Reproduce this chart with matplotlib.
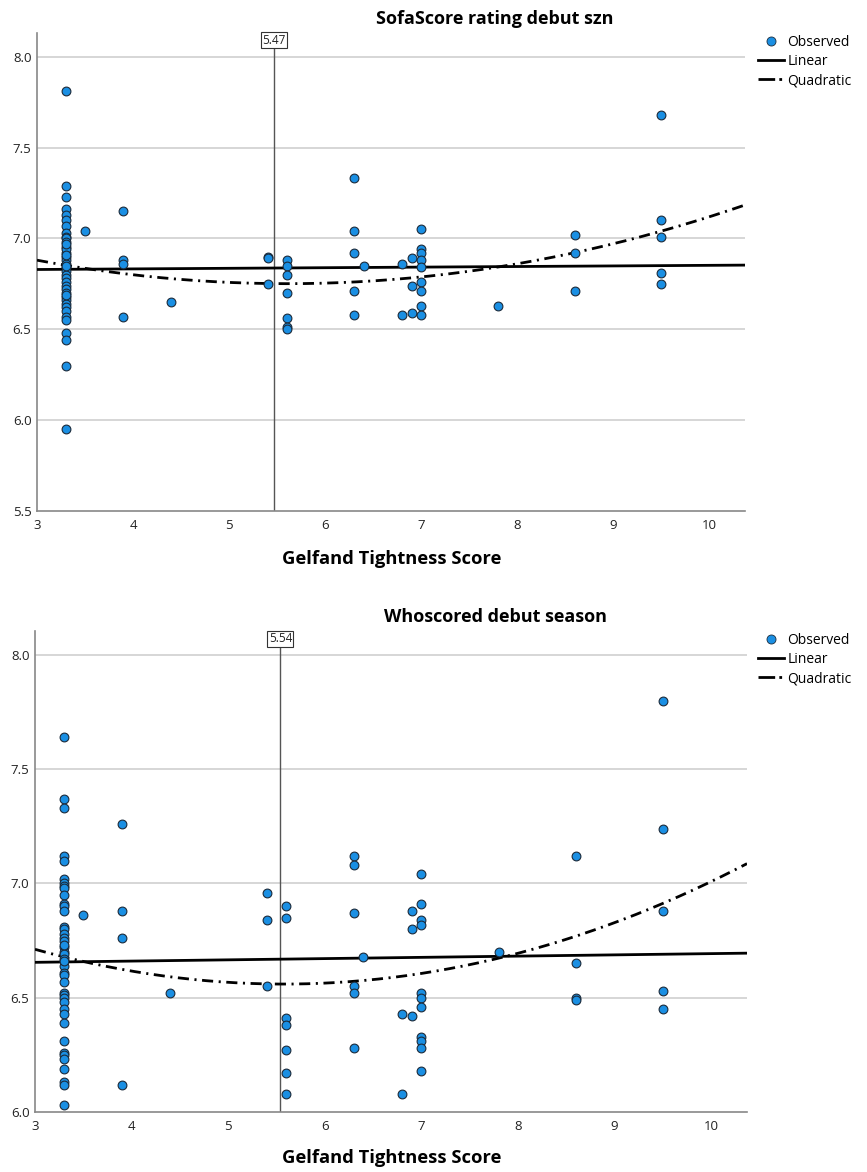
import numpy as np
import matplotlib
matplotlib.use("Agg")
import matplotlib.pyplot as plt
from matplotlib.lines import Line2D

plt.rcParams["font.family"] = ["Open Sans", "DejaVu Sans"]
plt.rcParams["lines.scale_dashes"] = False

# --------------------------------------------------------
# Data
# --------------------------------------------------------

sofa_x = (
    [3.3] * 40
    + [3.5]
    + [3.9] * 4
    + [4.4]
    + [5.4] * 3
    + [5.6] * 7
    + [6.3] * 5
    + [6.4]
    + [6.8] * 2
    + [6.9] * 3
    + [7.0] * 9
    + [7.8]
    + [8.6] * 3
    + [9.5] * 5
)
sofa_y = (
    [7.81, 7.29, 7.23, 7.16, 7.13, 7.10, 7.07, 7.03, 7.01, 7.00,
     6.98, 6.95, 6.92, 6.90, 6.88, 6.86, 6.84, 6.82, 6.80, 6.78,
     6.76, 6.74, 6.72, 6.70, 6.68, 6.66, 6.64, 6.62, 6.60, 6.57,
     6.55, 6.48, 6.44, 6.30, 5.95, 6.94, 6.97, 6.91, 6.85, 6.69]
    + [7.04]
    + [7.15, 6.88, 6.86, 6.57]
    + [6.65]
    + [6.90, 6.89, 6.75]
    + [6.88, 6.85, 6.80, 6.70, 6.56, 6.51, 6.50]
    + [7.33, 7.04, 6.92, 6.71, 6.58]
    + [6.85]
    + [6.86, 6.58]
    + [6.89, 6.74, 6.59]
    + [7.05, 6.94, 6.92, 6.88, 6.84, 6.76, 6.71, 6.63, 6.58]
    + [6.63]
    + [7.02, 6.92, 6.71]
    + [7.68, 7.10, 7.01, 6.81, 6.75]
)

who_x = (
    [3.3] * 43
    + [3.5]
    + [3.9] * 4
    + [4.4]
    + [5.4] * 3
    + [5.6] * 7
    + [6.3] * 6
    + [6.4]
    + [6.8] * 2
    + [6.9] * 3
    + [7.0] * 11
    + [7.8]
    + [8.6] * 4
    + [9.5] * 5
)
who_y = (
    [7.64, 7.37, 7.33, 7.12, 7.10, 7.02, 7.00, 6.99, 6.98, 6.95,
     6.91, 6.90, 6.88, 6.81, 6.80, 6.78, 6.76, 6.75, 6.72, 6.70,
     6.69, 6.67, 6.64, 6.61, 6.60, 6.57, 6.52, 6.51, 6.50, 6.48,
     6.45, 6.43, 6.39, 6.31, 6.26, 6.25, 6.23, 6.19, 6.13, 6.12,
     6.03, 6.73, 6.66]
    + [6.86]
    + [7.26, 6.88, 6.76, 6.12]
    + [6.52]
    + [6.96, 6.84, 6.55]
    + [6.90, 6.85, 6.41, 6.38, 6.27, 6.17, 6.08]
    + [7.12, 7.08, 6.87, 6.55, 6.52, 6.28]
    + [6.68]
    + [6.43, 6.08]
    + [6.88, 6.80, 6.42]
    + [7.04, 6.91, 6.84, 6.82, 6.52, 6.50, 6.46, 6.33, 6.31, 6.28, 6.18]
    + [6.70]
    + [7.12, 6.65, 6.50, 6.49]
    + [7.80, 7.24, 6.88, 6.53, 6.45]
)

# fitted curves as shown (coefficients, highest power first)
sofa_linear = [0.00327, 6.819]
sofa_quadratic = [0.019056, -0.21358, 7.34924]
who_linear = [0.00544, 6.6387]
who_quadratic = [0.022931, -0.25571, 7.27275]

sofa_ref = 5.47
who_ref = 5.54

PANELS = [
    {
        "title": "SofaScore rating debut szn",
        "x": sofa_x, "y": sofa_y,
        "lin": sofa_linear, "quad": sofa_quadratic,
        "ref": sofa_ref,
        "rect": [37 / 867, 1 - 511 / 1172, 708 / 867, 478 / 1172],
        "ylim": (5.5, 8.13),
        "yticks": [5.5, 6.0, 6.5, 7.0, 7.5, 8.0],
        "title_xy": (495 / 867, 1 - 19 / 1172),
        "xlabel_y": 1 - 559 / 1172,
        "legend_y": 1 - 35 / 1172,
    },
    {
        "title": "Whoscored debut season",
        "x": who_x, "y": who_y,
        "lin": who_linear, "quad": who_quadratic,
        "ref": who_ref,
        "rect": [35 / 867, 1 - 1112 / 1172, 712 / 867, 481 / 1172],
        "ylim": (6.0, 8.105),
        "yticks": [6.0, 6.5, 7.0, 7.5, 8.0],
        "title_xy": (495 / 867, 1 - 617 / 1172),
        "xlabel_y": 1 - 1158 / 1172,
        "legend_y": 1 - 633 / 1172,
    },
]

BLUE = "#1a8fe3"
DASHDOT = (0, (8, 4, 1.5, 4))

# --------------------------------------------------------
# Plot
# --------------------------------------------------------

fig = plt.figure(figsize=(8.67, 11.72), dpi=100)

for p in PANELS:
    ax = fig.add_axes(p["rect"])

    xlim = (3, 10.37)
    ax.set_xlim(*xlim)
    ax.set_ylim(*p["ylim"])

    for yv in p["yticks"][1:]:
        ax.axhline(yv, color="#cfcfcf", linewidth=1.2, zorder=0)

    ax.axvline(p["ref"], color="#555555", linewidth=1.0, zorder=1)
    ax.text(
        p["ref"], p["ylim"][1] - 0.005, f"{p['ref']:.2f}",
        ha="center", va="top", fontsize=8.5, color="#222222",
        bbox=dict(boxstyle="square,pad=0.12", fc="white", ec="#333333", lw=0.8),
        zorder=5,
    )

    xs = np.linspace(xlim[0], xlim[1], 200)
    ax.plot(xs, np.polyval(p["lin"], xs), color="black", linewidth=2.0, zorder=3)
    ax.plot(xs, np.polyval(p["quad"], xs), color="black", linewidth=2.0,
            linestyle=DASHDOT, zorder=3)

    ax.scatter(p["x"], p["y"], s=40, color=BLUE, edgecolors="#1b2a3a",
               linewidths=0.8, zorder=4)

    ax.set_xticks([3, 4, 5, 6, 7, 8, 9, 10])
    ax.set_yticks(p["yticks"])
    ax.set_yticklabels([f"{v:.1f}" for v in p["yticks"]])
    ax.tick_params(length=0, labelsize=9.5, colors="#222222")
    ax.tick_params(axis="x", pad=6)
    ax.tick_params(axis="y", pad=4)

    for side in ["top", "right"]:
        ax.spines[side].set_visible(False)
    for side in ["left", "bottom"]:
        ax.spines[side].set_color("#888888")
        ax.spines[side].set_linewidth(1.2)

    fig.text(p["title_xy"][0], p["title_xy"][1], p["title"],
             ha="center", va="center", fontsize=13, fontweight="bold")
    fig.text(392 / 867, p["xlabel_y"], "Gelfand Tightness Score",
             ha="center", va="center", fontsize=13.2, fontweight="bold")

    handles = [
        Line2D([], [], linestyle="none", marker="o", markersize=6.5,
               markerfacecolor=BLUE, markeredgecolor="#1b2a3a",
               markeredgewidth=0.6),
        Line2D([], [], color="black", linewidth=2.0),
        Line2D([], [], color="black", linewidth=2.0, linestyle=(0, (12, 3, 2, 6))),
    ]
    fig.legend(
        handles, ["Observed", "Linear", "Quadratic"],
        loc="upper left", bbox_to_anchor=(758 / 867, p["legend_y"]),
        frameon=False, fontsize=10, handlelength=1.9, handletextpad=0.2,
        labelspacing=0.3, borderpad=0, borderaxespad=0,
    )

fig.savefig("out.png", dpi=100)
